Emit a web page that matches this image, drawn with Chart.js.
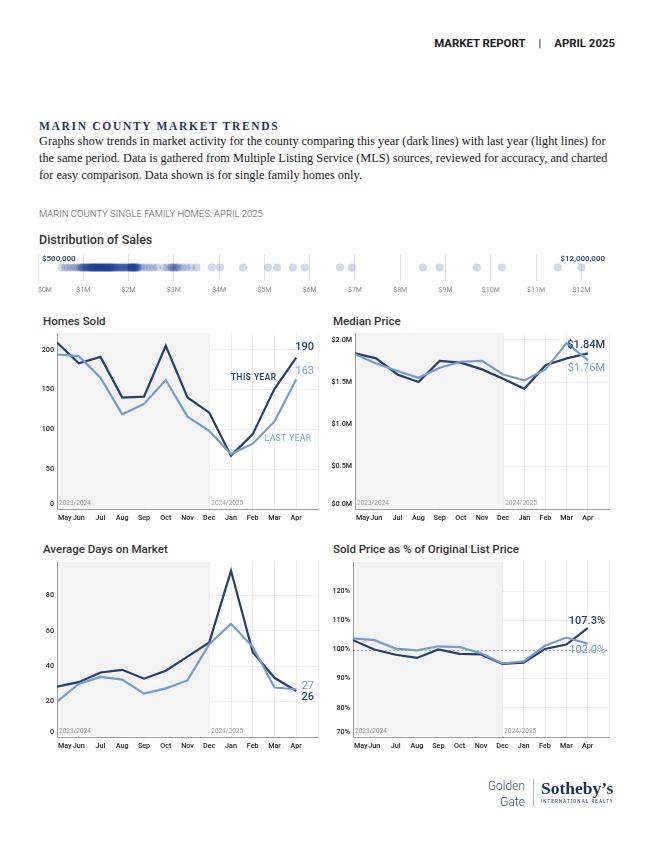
<!DOCTYPE html>
<html>
<head>
<meta charset="utf-8">
<script src="https://cdn.jsdelivr.net/npm/chart.js@4.4.1/dist/chart.umd.min.js"></script>
<style>
  html, body { margin: 0; padding: 0; background: #fff; }
  #page { position: relative; width: 652px; height: 844px; overflow: hidden; font-family: Roboto, sans-serif; color: #222; }
  .t { position: absolute; white-space: nowrap; }
  .box { position: absolute; }
  #hdr { right: 37px; top: 36px; font: 700 11.4px/14px Roboto, sans-serif; color: #1a1a1a; }
  #hdr .bar { margin: 0 13px; font-weight: 400; }
  #ttl { left: 39px; top: 119px; font: 700 11.5px/14px "Liberation Serif", serif; letter-spacing: 1.7px; color: #1f3766; }
  #intro { left: 39px; top: 133px; font: 12.3px/17px "Liberation Serif", serif; color: #1a1a1a; }
  #sub { left: 39px; top: 208px; font: 300 9.5px/12px Roboto, sans-serif; color: #555; }
  .h { font: 500 11.5px/14px Roboto, sans-serif; color: #333; }
  #distH { left: 39px; top: 233px; font-size: 12.5px; }
  .golden { right: 127px; font: 300 12px/14px Roboto, sans-serif; color: #3a4a6b; text-align: right; }
  #vline { left: 533px; top: 779px; width: 1px; height: 28px; background: #b8b8b8; }
  #soth { left: 541px; top: 779px; font: 700 17.5px/19px "Liberation Serif", serif; color: #1e2f5e; }
  #intl { left: 541px; top: 799px; font: 4.6px/6px Roboto, sans-serif; letter-spacing: 1.05px; color: #1e2f5e; }
</style>
</head>
<body>
<div id="page">
  <div class="t" id="hdr">MARKET REPORT<span class="bar">|</span>APRIL 2025</div>
  <div class="t" id="ttl">MARIN COUNTY MARKET TRENDS</div>
  <div class="t" id="intro">Graphs show trends in market activity for the county comparing this year (dark lines) with last year (light lines) for<br>the same period. Data is gathered from Multiple Listing Service (MLS) sources, reviewed for accuracy, and charted<br>for easy comparison. Data shown is for single family homes only.</div>
  <div class="t" id="sub">MARIN COUNTY SINGLE FAMILY HOMES: APRIL 2025</div>
  <div class="t h" id="distH">Distribution of Sales</div>
  <div class="box" style="left:30px;top:248px;width:590px;height:50px"><canvas id="dist"></canvas></div>

  <div class="t h" style="left:43px;top:314px">Homes Sold</div>
  <div class="t h" style="left:333px;top:314px">Median Price</div>
  <div class="t h" style="left:43px;top:542px">Average Days on Market</div>
  <div class="t h" style="left:333px;top:542px">Sold Price as % of Original List Price</div>

  <div class="box" style="left:30px;top:326px;width:295px;height:205px"><canvas id="homes"></canvas></div>
  <div class="box" style="left:320px;top:326px;width:300px;height:205px"><canvas id="median"></canvas></div>
  <div class="box" style="left:30px;top:555px;width:295px;height:205px"><canvas id="days"></canvas></div>
  <div class="box" style="left:320px;top:555px;width:300px;height:205px"><canvas id="pct"></canvas></div>

  <div class="t golden" style="top:779px">Golden</div>
  <div class="t golden" style="top:795px">Gate</div>
  <div class="box" id="vline"></div>
  <div class="t" id="soth">Sotheby’s</div>
  <div class="t" id="intl">INTERNATIONAL REALTY</div>
</div>

<script>
// Dane
const months = ['May', 'Jun', 'Jul', 'Aug', 'Sep', 'Oct', 'Nov', 'Dec', 'Jan', 'Feb', 'Mar', 'Apr'];
const periodLabels = ['2023/2024', '2024/2025'];

const homesSoldThisYear = [209, 183, 191, 140, 141, 205, 140, 121, 67, 94, 151, 190];
const homesSoldLastYear = [194, 192, 165, 119, 132, 162, 116, 98, 69, 82, 110, 163];
const homesSoldTicks = [0, 50, 100, 150, 200];

const medianPriceThisYear = [1.84, 1.78, 1.59, 1.50, 1.75, 1.73, 1.65, 1.54, 1.42, 1.70, 1.78, 1.84];
const medianPriceLastYear = [1.83, 1.72, 1.63, 1.55, 1.67, 1.74, 1.75, 1.59, 1.52, 1.65, 1.96, 1.76];
const medianPriceTicks = [0, 0.5, 1.0, 1.5, 2.0];

const daysThisYear = [28.5, 31, 36.5, 38, 33, 37.5, 45.5, 53.5, 94, 48, 33.5, 26];
const daysLastYear = [20, 30, 34, 32.5, 24.5, 27.5, 32, 52.5, 64, 51, 28, 27];
const daysTicks = [0, 20, 40, 60, 80];

const pctListThisYear = [103.2, 100.0, 98.2, 97.1, 100.0, 98.5, 98.3, 95.1, 95.5, 100.2, 101.7, 107.3];
const pctListLastYear = [103.8, 103.2, 100.3, 99.7, 101.1, 100.8, 98.7, 95.2, 95.9, 101.3, 104.1, 102.0];
const pctListTicks = [70, 80, 90, 100, 110, 120];

// ceny sprzedaży w mln $
const salePrices = [
    0.52, 0.60, 0.66, 0.72, 0.78, 0.83, 0.88,
    0.93, 0.95, 0.97, 0.99, 1.00, 1.03, 1.04, 1.06, 1.08, 1.09, 1.11, 1.12, 1.14, 1.15, 1.17, 1.18, 1.19,
    1.20, 1.21, 1.22, 1.23, 1.24, 1.25, 1.26, 1.27, 1.28, 1.29, 1.30, 1.31, 1.32, 1.33, 1.34, 1.35, 1.36,
    1.37, 1.38, 1.39, 1.40, 1.41, 1.42, 1.43, 1.44, 1.45, 1.46, 1.47, 1.48, 1.49, 1.50, 1.51, 1.52, 1.53,
    1.54, 1.55, 1.56, 1.57, 1.58, 1.59, 1.60, 1.61, 1.62, 1.63, 1.64, 1.66,
    1.67, 1.69, 1.70, 1.72, 1.73, 1.76, 1.78, 1.79, 1.82, 1.84, 1.85, 1.88, 1.90, 1.91, 1.94, 1.96,
    1.97, 2.00, 2.01, 2.03, 2.04, 2.05, 2.06, 2.07, 2.08, 2.09, 2.10, 2.11, 2.12, 2.13, 2.14, 2.15,
    2.16, 2.18, 2.19, 2.20, 2.22,
    2.27, 2.33, 2.40, 2.47, 2.55, 2.63,
    2.78, 2.85, 2.92, 2.95, 2.96, 3.00, 3.02, 3.05, 3.08, 3.12, 3.20, 3.28,
    3.38, 3.50,
    3.84, 4.02, 4.53, 5.08, 5.28, 5.63, 5.89, 6.67, 6.93, 8.50, 8.87, 9.69, 10.24, 11.48, 12.00
];
const priceTicks = [0, 1, 2, 3, 4, 5, 6, 7, 8, 9, 10, 11, 12];

const DARK = '#263f6e';
const LIGHT = '#739cd2';
const TICK_FONT = '500 7.2px Roboto';

// ustawienia paneli (poza options, bo Chart.js wywołuje funkcje w options)
const panels = {
    homes: { yTicks: homesSoldTicks, yFmt: v => String(v), endFmt: v => String(v), dy: [-8, -10],
             names: [{ text: 'LAST YEAR', x: 11.7, y: 88, align: 'right', color: LIGHT, weight: 400 },
                      { text: 'THIS YEAR', x: 8, y: 165, align: 'left', color: DARK, weight: 600 }] },
    median: { yTicks: medianPriceTicks, yFmt: v => '$' + v.toFixed(1) + 'M', endFmt: v => '$' + v.toFixed(2) + 'M', dy: [8, -8] },
    days: { yTicks: daysTicks, yFmt: v => String(v), endFmt: v => String(v), dy: [-3, 6] },
    pct: { yTicks: pctListTicks, yFmt: v => v + '%', endFmt: v => v.toFixed(1) + '%', dy: [7, -7], refLine: 100 }
};

const decor = {
    id: 'decor',
    beforeDatasetsDraw(chart) {
        const p = panels[chart.canvas.id];
        const { ctx, chartArea: a, scales: { x, y } } = chart;
        ctx.save();
        ctx.fillStyle = '#f3f3f3';
        const xs = x.getPixelForValue(7);
        ctx.fillRect(a.left + 1, a.top, xs - a.left - 1, a.bottom - a.top - 1);
        if (p.refLine != null) {
            const py = Math.round(y.getPixelForValue(p.refLine)) + 0.5;
            ctx.strokeStyle = '#9c9c9c';
            ctx.lineWidth = 0.8;
            ctx.setLineDash([2, 2]);
            ctx.beginPath();
            ctx.moveTo(a.left, py);
            ctx.lineTo(a.right, py);
            ctx.stroke();
        }
        ctx.restore();
    },
    afterDraw(chart) {
        const p = panels[chart.canvas.id];
        const { ctx, chartArea: a, scales: { x, y } } = chart;
        ctx.save();
        ctx.font = TICK_FONT;
        ctx.fillStyle = '#222';
        ctx.textBaseline = 'middle';
        ctx.textAlign = 'right';
        p.yTicks.forEach(v => {
            const py = Math.min(y.getPixelForValue(v), a.bottom - 5);
            ctx.fillText(p.yFmt(v), a.left - 3, py);
        });
        months.forEach((m, i) => {
            ctx.textAlign = i === 0 ? 'left' : 'center';
            ctx.fillText(m, i === 0 ? a.left + 1 : x.getPixelForValue(i), a.bottom + 9);
        });

        ctx.font = '6.5px Roboto';
        ctx.fillStyle = '#9a9a9a';
        ctx.textAlign = 'left';
        ctx.fillText(periodLabels[0], a.left + 2, a.bottom - 6);
        ctx.fillText(periodLabels[1], x.getPixelForValue(7) + 2, a.bottom - 6);

        // wartości na końcu linii
        ctx.textAlign = 'right';
        chart.data.datasets.forEach((ds, k) => {
            const last = ds.data[ds.data.length - 1];
            ctx.font = (k === 1 ? '500 ' : '400 ') + '11px Roboto';
            ctx.fillStyle = ds.borderColor;
            ctx.fillText(p.endFmt(last.y), a.right - 4, y.getPixelForValue(last.y) + p.dy[k]);
        });

        (p.names || []).forEach(n => {
            ctx.font = n.weight + ' 8.3px Roboto';
            ctx.fillStyle = n.color;
            ctx.textAlign = n.align;
            ctx.letterSpacing = '0.5px';
            ctx.fillText(n.text, x.getPixelForValue(n.x), y.getPixelForValue(n.y));
        });
        ctx.restore();
    }
};

function lineChart(id, lastYear, thisYear, yMin, yMax, pad) {
    const ctx = document.getElementById(id).getContext('2d');
    const setTicks = list => scale => { scale.ticks = list.map(v => ({ value: v })); };
    return new Chart(ctx, {
        type: 'line',
        data: {
            datasets: [{
                data: lastYear.map((v, i) => ({ x: i, y: v })),
                borderColor: LIGHT,
                borderWidth: 2.2,
                pointRadius: 0,
                tension: 0
            }, {
                data: thisYear.map((v, i) => ({ x: i, y: v })),
                borderColor: DARK,
                borderWidth: 2.2,
                pointRadius: 0,
                tension: 0
            }]
        },
        options: {
            responsive: true,
            maintainAspectRatio: false,
            animation: false,
            events: [],
            layout: { padding: pad },
            plugins: { legend: { display: false }, tooltip: { enabled: false } },
            scales: {
                x: {
                    type: 'linear', min: 0, max: months.length,
                    afterBuildTicks: setTicks(months.map((m, i) => i).concat(months.length)),
                    ticks: { display: false },
                    grid: { color: 'rgba(0,0,0,0.07)', drawTicks: false },
                    border: { color: '#9a9a9a' }
                },
                y: {
                    min: yMin, max: yMax,
                    afterBuildTicks: setTicks(panels[id].yTicks),
                    ticks: { display: false },
                    grid: { color: 'rgba(0,0,0,0.06)', drawTicks: false },
                    border: { color: '#9a9a9a' }
                }
            }
        },
        plugins: [decor]
    });
}

lineChart('homes', homesSoldLastYear, homesSoldThisYear, 0, 221, { left: 27, top: 7, right: 7, bottom: 22 });
lineChart('median', medianPriceLastYear, medianPriceThisYear, 0, 2.08, { left: 35, top: 7, right: 11, bottom: 22 });
lineChart('days', daysLastYear, daysThisYear, 0, 99, { left: 27, top: 7, right: 7, bottom: 23 });
lineChart('pct', pctListLastYear, pctListThisYear, 70, 130, { left: 33, top: 7, right: 11, bottom: 23 });

// rozkład sprzedaży
const distLabels = {
    id: 'distLabels',
    afterDraw(chart) {
        const { ctx, chartArea: a, scales: { x } } = chart;
        ctx.save();
        ctx.font = '7px Roboto';
        ctx.fillStyle = '#8a8a8a';
        ctx.textBaseline = 'middle';
        priceTicks.forEach(v => {
            ctx.textAlign = v === 0 ? 'left' : 'center';
            ctx.fillText('$' + v + 'M', v === 0 ? a.left : x.getPixelForValue(v), a.bottom + 9);
        });
        const lo = Math.round(Math.min(...salePrices) * 10) / 10;
        const hi = Math.max(...salePrices);
        ctx.font = '500 8px Roboto';
        ctx.fillStyle = '#253a66';
        ctx.textAlign = 'left';
        ctx.fillText('$' + (lo * 1e6).toLocaleString('en-US'), a.left + 4, a.top + 5);
        ctx.textAlign = 'right';
        ctx.fillText('$' + (hi * 1e6).toLocaleString('en-US'), a.right + 1, a.top + 5);
        ctx.restore();
    }
};

new Chart(document.getElementById('dist').getContext('2d'), {
    type: 'scatter',
    data: {
        datasets: [{
            data: salePrices.map(v => ({ x: v, y: 0 })),
            backgroundColor: 'rgba(30,60,145,0.2)',
            borderWidth: 0,
            pointRadius: 4.1
        }]
    },
    options: {
        responsive: true,
        maintainAspectRatio: false,
        animation: false,
        events: [],
        layout: { padding: { left: 8, right: 16, top: 6, bottom: 17 } },
        plugins: { legend: { display: false }, tooltip: { enabled: false } },
        scales: {
            x: {
                type: 'linear', min: 0, max: 12.5,
                afterBuildTicks: s => { s.ticks = priceTicks.map(v => ({ value: v })); },
                ticks: { display: false },
                grid: { color: '#e4e4e4', drawTicks: false },
                border: { display: false }
            },
            y: { min: -1, max: 1, display: false }
        }
    },
    plugins: [distLabels]
});
</script>
</body>
</html>
